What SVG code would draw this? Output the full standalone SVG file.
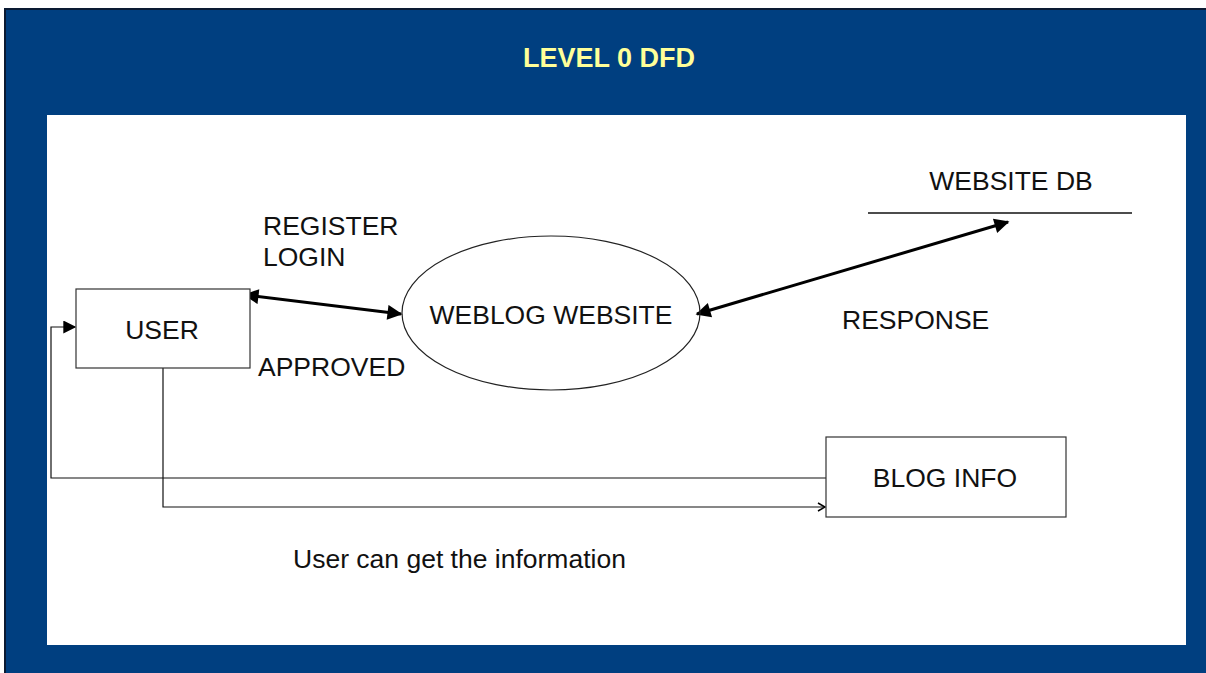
<svg xmlns="http://www.w3.org/2000/svg" width="1206" height="673" viewBox="0 0 1206 673">
<style>
.t{font-family:"Liberation Sans",Arial,sans-serif;font-size:26.5px;fill:#111}
.box{fill:#fff;stroke:#333;stroke-width:1.2}
.ln{fill:none;stroke:#111;stroke-width:1.2}
.bold{fill:none;stroke:#000;stroke-width:3}
</style>
<defs>
<marker id="ahs" viewBox="0 0 10 10" refX="9" refY="5" markerWidth="10" markerHeight="10" markerUnits="userSpaceOnUse" orient="auto">
<path d="M2,1 L9,5 L2,9" fill="none" stroke="#000" stroke-width="1.5"/>
</marker>
<marker id="ahl" viewBox="0 0 10 10" refX="9" refY="5" markerWidth="18" markerHeight="15" markerUnits="userSpaceOnUse" orient="auto-start-reverse">
<path d="M0,0 L10,5 L0,10 z" fill="#000"/>
</marker>
<marker id="ahm" viewBox="0 0 10 10" refX="9" refY="5" markerWidth="16" markerHeight="13" markerUnits="userSpaceOnUse" orient="auto">
<path d="M0,0 L10,5 L0,10 z" fill="#000"/>
</marker>
</defs>
<rect x="0" y="0" width="1206" height="673" fill="#fff"/>
<rect x="4" y="8" width="1202" height="665" fill="#003F80"/>
<rect x="4" y="8" width="1202" height="2" fill="#0a1a33"/>
<rect x="4" y="8" width="2" height="665" fill="#0a1a33"/>
<rect x="47" y="115" width="1139" height="530" fill="#fff"/>
<text x="609" y="67" text-anchor="middle" style="font-family:'Liberation Sans',Arial,sans-serif;font-weight:bold;font-size:27px;fill:#FFFF99">LEVEL 0 DFD</text>

<g id="connectors">
<line class="bold" x1="245" y1="295" x2="401" y2="314" marker-start="url(#ahl)" marker-end="url(#ahl)"/>
<line class="bold" x1="697" y1="314" x2="1008" y2="222" marker-start="url(#ahl)" marker-end="url(#ahl)"/>
<polyline class="ln" points="826,478 51,478 51,327 75,327" marker-end="url(#ahm)"/>
<polyline class="ln" points="163,368 163,507 825,507" marker-end="url(#ahs)"/>
</g>

<g id="user">
<rect class="box" x="76" y="289" width="174" height="79"/>
<text class="t" x="162" y="339" text-anchor="middle">USER</text>
</g>
<g id="weblog-website">
<ellipse cx="551" cy="313" rx="149" ry="77" fill="none" stroke="#222" stroke-width="1.2"/>
<text class="t" x="551" y="324" text-anchor="middle">WEBLOG WEBSITE</text>
</g>
<g id="website-db">
<line x1="868" y1="213" x2="1132" y2="213" stroke="#111" stroke-width="1.5"/>
<text class="t" x="1011" y="190" text-anchor="middle">WEBSITE DB</text>
</g>
<g id="blog-info">
<rect class="box" x="826" y="437" width="240" height="80"/>
<text class="t" x="945" y="487" text-anchor="middle">BLOG INFO</text>
</g>
<g id="labels">
<text class="t" x="263" y="235">REGISTER</text>
<text class="t" x="263" y="266">LOGIN</text>
<text class="t" x="258" y="376">APPROVED</text>
<text class="t" x="842" y="329">RESPONSE</text>
<text class="t" x="293" y="568">User can get the information</text>
</g>
</svg>
